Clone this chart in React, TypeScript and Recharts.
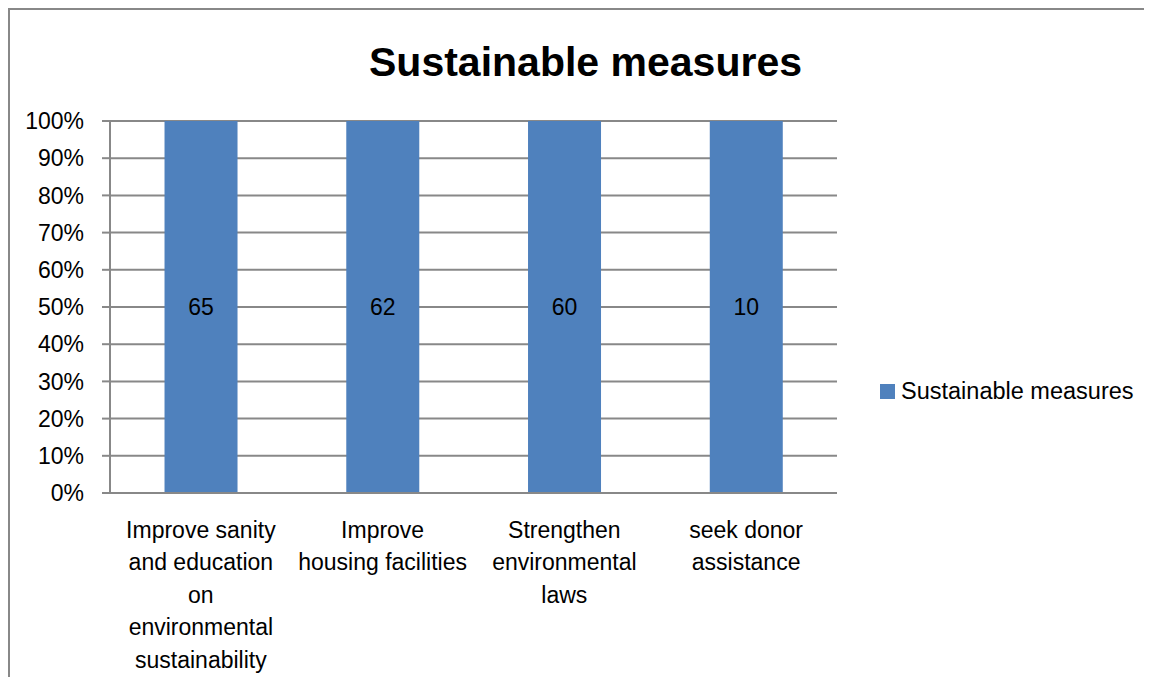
import { Bar, BarChart, CartesianGrid, LabelList, XAxis, YAxis } from "recharts";

const categories = [
  "Improve sanity and education on environmental sustainability",
  "Improve housing facilities",
  "Strengthen environmental laws",
  "seek donor assistance",
];
const tickLines = [
  ["Improve sanity", "and education", "on", "environmental", "sustainability"],
  ["Improve", "housing facilities"],
  ["Strengthen", "environmental", "laws"],
  ["seek donor", "assistance"],
];
const values = [65, 62, 60, 10];
const percentTicks = [0, 0.1, 0.2, 0.3, 0.4, 0.5, 0.6, 0.7, 0.8, 0.9, 1];
const boundaryTicks = [0, 1, 2, 3, 4];

const seriesName = "Sustainable measures";
const title = "Sustainable measures";

const BLUE = "#4F81BD";
const GRAY = "#888888";
const FONT = "'Liberation Sans', Arial, sans-serif";

const data = categories.map((name, i) => ({ name, value: values[i] }));

function CategoryTick(props: any) {
  const { x, y, payload } = props;
  const lines = tickLines[payload.index] || [payload.value];
  return (
    <text x={x} y={y} textAnchor="middle" fontSize={23} fontFamily={FONT} fill="#000">
      {lines.map((line, i) => (
        <tspan key={i} x={x} dy={i === 0 ? 37 : 32.4}>
          {line}
        </tspan>
      ))}
    </text>
  );
}

export default function App() {
  return (
    <div style={{ position: "relative", width: 1144, height: 669, fontFamily: FONT, overflow: "hidden" }}>
      <style>{"html, body { overflow: hidden; }"}</style>
      <div
        style={{
          position: "absolute",
          left: 0,
          top: 0,
          width: 1144,
          height: 669,
          borderTop: `2px solid ${GRAY}`,
          borderLeft: `2px solid ${GRAY}`,
          boxSizing: "border-box",
        }}
      />
      <div
        style={{
          position: "absolute",
          left: 11,
          width: 1133,
          top: 30,
          textAlign: "center",
          fontSize: 41,
          fontWeight: "bold",
          lineHeight: "48px",
          color: "#000",
        }}
      >
        {title}
      </div>
      <BarChart
        width={1144}
        height={669}
        data={data}
        stackOffset="expand"
        barCategoryGap="30%"
        margin={{ top: 113, right: 315, left: 0, bottom: 0 }}
      >
        <CartesianGrid vertical={false} stroke={GRAY} strokeWidth={2} />
        <XAxis
          xAxisId="edges"
          type="number"
          domain={[0, 4]}
          ticks={boundaryTicks}
          height={0}
          tick={false}
          tickSize={8}
          tickLine={{ stroke: GRAY, strokeWidth: 2 }}
          axisLine={false}
        />
        <XAxis
          dataKey="name"
          height={184}
          tickLine={false}
          tickSize={8}
          tickMargin={0}
          axisLine={{ stroke: GRAY, strokeWidth: 2 }}
          tick={<CategoryTick />}
          interval={0}
        />
        <YAxis
          type="number"
          domain={[0, 1]}
          ticks={percentTicks}
          width={102}
          tickSize={8}
          tickMargin={18}
          tickFormatter={(v: number) => `${Math.round(v * 100)}%`}
          tick={{ fontSize: 23, fill: "#000", fontFamily: FONT }}
          tickLine={{ stroke: GRAY, strokeWidth: 2 }}
          axisLine={{ stroke: GRAY, strokeWidth: 2 }}
        />
        <Bar dataKey="value" stackId="a" fill={BLUE} name={seriesName} isAnimationActive={false}>
          <LabelList dataKey="value" position="center" fill="#000" fontSize={23} fontFamily={FONT} />
        </Bar>
      </BarChart>
      <div
        style={{
          position: "absolute",
          left: 872,
          top: 370,
          display: "flex",
          alignItems: "center",
          fontSize: 23.5,
          color: "#000",
          whiteSpace: "nowrap",
        }}
      >
        <span style={{ display: "inline-block", width: 15, height: 15, background: BLUE, marginRight: 6 }} />
        {seriesName}
      </div>
    </div>
  );
}
